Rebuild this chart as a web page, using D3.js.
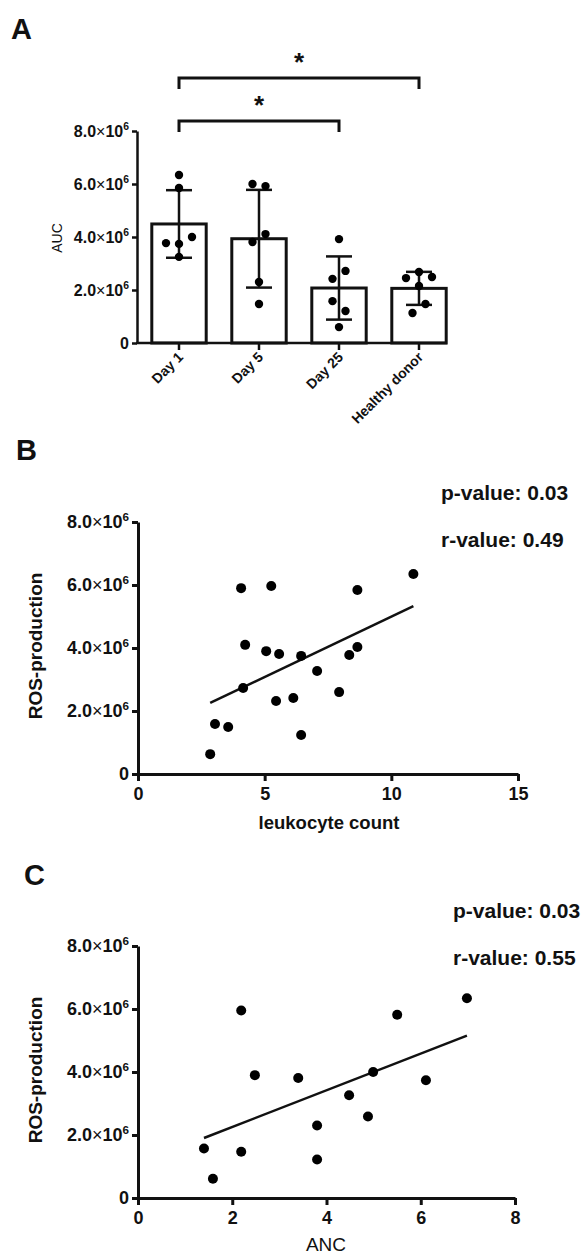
<!DOCTYPE html>
<html>
<head>
<meta charset="utf-8">
<script src="https://cdn.jsdelivr.net/npm/d3@7"></script>
<style>
  body { margin: 0; background: #fff; }
  svg { display: block; }
  text { font-family: "Liberation Sans", Arial, sans-serif; fill: #111; }
</style>
</head>
<body>
<svg id="chart" width="585" height="1255"></svg>
<script>
// ---- panel A: AUC per group (individual values) ----
const groups = ["Day 1", "Day 5", "Day 25", "Healthy donor"];
const day1 = [6.34e6, 5.85e6, 3.77e6, 4.00e6, 3.74e6, 3.25e6];
const day5 = [6.00e6, 5.92e6, 3.81e6, 4.11e6, 2.30e6, 1.47e6];
const day25 = [3.92e6, 2.72e6, 2.42e6, 1.58e6, 1.21e6, 0.60e6];
const healthy = [2.68e6, 2.45e6, 2.49e6, 2.15e6, 1.47e6, 1.13e6];
// side-by-side dot placement, in dot steps
const jitter = [[0, 0, -2, 2, 0, 0], [-1, 1, -1, 1, 0, 0], [0, 1, -1, -1, 1, 0], [0, -2, 2, 0, 1, -1]];
const comparisons = [["Day 1", "Day 25", "*"], ["Day 1", "Healthy donor", "*"]];
const yTicks = [0, 2e6, 4e6, 6e6, 8e6];

// ---- panel B: ROS vs leukocyte count ----
const leukocyteCount = [4.23, 5.06, 5.57, 6.44, 8.66, 8.34, 7.07, 4.15, 7.94, 5.45, 6.13, 3.04, 3.56, 6.44, 2.85, 4.07, 5.26, 8.66, 10.87];
const rosB = [4.10e6, 3.90e6, 3.81e6, 3.75e6, 4.03e6, 3.78e6, 3.27e6, 2.73e6, 2.60e6, 2.32e6, 2.41e6, 1.59e6, 1.49e6, 1.24e6, 0.63e6, 5.90e6, 5.97e6, 5.84e6, 6.35e6];
const statsB = ["p-value: 0.03", "r-value: 0.49"];

// ---- panel C: ROS vs ANC ----
const anc = [2.48, 3.40, 4.99, 6.11, 4.48, 4.88, 3.80, 1.40, 2.19, 3.80, 1.59, 2.19, 5.50, 6.98];
const rosC = [3.90e6, 3.81e6, 4.00e6, 3.74e6, 3.26e6, 2.59e6, 2.30e6, 1.57e6, 1.47e6, 1.22e6, 0.61e6, 5.95e6, 5.82e6, 6.34e6];
const statsC = ["p-value: 0.03", "r-value: 0.55"];

const svg = d3.select("#chart");
svg.append("rect").attr("width", 585).attr("height", 1255).attr("fill", "#fff");

// 8.0x10^6 style labels
function sciLabels(sel, fs) {
  sel.each(function (d) {
    const t = d3.select(this).text(null).attr("font-size", fs).attr("font-weight", "bold");
    if (d === 0) { t.text("0"); return; }
    t.append("tspan").text((d / 1e6).toFixed(1));
    t.append("tspan").attr("font-weight", "normal").text("\u00d7");
    t.append("tspan").text("10");
    t.append("tspan").attr("font-size", fs * 0.65).attr("dy", -fs * 0.42).text("6");
  });
}

function styleAxis(g, w) {
  g.select(".domain").attr("stroke", "#111").attr("stroke-width", w);
  g.selectAll(".tick line").attr("stroke", "#111").attr("stroke-width", w);
}

function panelLetter(txt, x, y) {
  svg.append("text").attr("x", x).attr("y", y)
    .attr("font-family", "Lato, 'Open Sans', sans-serif")
    .attr("font-weight", "bold").attr("font-size", 29).text(txt);
}

// ================= A =================
function drawA() {
  const values = [day1, day5, day25, healthy];
  const y = d3.scaleLinear().domain([0, 8e6]).range([343, 131]);
  const x = d3.scaleBand().domain(groups).range([139, 459]).paddingInner(0.32).paddingOuter(0.16);
  const bw = x.bandwidth();
  const g = svg.append("g");

  const stats = groups.map((k, i) => ({
    key: k,
    mean: d3.mean(values[i]),
    sd: d3.deviation(values[i])
  }));

  g.selectAll(".bar").data(stats).join("rect")
    .attr("x", d => x(d.key)).attr("width", bw)
    .attr("y", d => y(d.mean)).attr("height", d => y(0) - y(d.mean))
    .attr("fill", "#fff").attr("stroke", "#111").attr("stroke-width", 3);

  // error bars (mean +/- SD)
  stats.forEach(d => {
    const cx = x(d.key) + bw / 2;
    g.append("line").attr("x1", cx).attr("x2", cx)
      .attr("y1", y(d.mean + d.sd)).attr("y2", y(d.mean - d.sd))
      .attr("stroke", "#111").attr("stroke-width", 2.5);
    [d.mean + d.sd, d.mean - d.sd].forEach(v => {
      g.append("line").attr("x1", cx - 13).attr("x2", cx + 13)
        .attr("y1", y(v)).attr("y2", y(v))
        .attr("stroke", "#111").attr("stroke-width", 2.5);
    });
  });

  values.forEach((arr, i) => {
    const cx = x(groups[i]) + bw / 2;
    g.selectAll(null).data(arr).join("circle")
      .attr("cx", (d, j) => cx + jitter[i][j] * 6.5)
      .attr("cy", d => y(d)).attr("r", 4.2).attr("fill", "#000");
  });

  const ya = svg.append("g").attr("transform", "translate(137,0)")
    .call(d3.axisLeft(y).tickValues(yTicks).tickSize(5).tickSizeOuter(0).tickPadding(3));
  styleAxis(ya, 2.5);
  ya.selectAll(".tick text").call(sciLabels, 16);

  const xa = svg.append("g").attr("transform", "translate(0,343)")
    .call(d3.axisBottom(x).tickSize(7).tickSizeOuter(0));
  xa.select(".domain").attr("d", "M136,0H447");
  styleAxis(xa, 2.5);
  xa.selectAll(".tick text")
    .attr("font-size", 14).attr("font-weight", "bold")
    .attr("text-anchor", "end").attr("dy", null).attr("y", 0)
    .attr("transform", "translate(5,15) rotate(-45)");

  svg.append("text").attr("transform", "translate(62,238) rotate(-90)")
    .attr("text-anchor", "middle").attr("font-size", 14).text("AUC");

  // significance brackets
  const levels = [121, 78];
  comparisons.forEach((c, i) => {
    const x1 = x(c[0]) + bw / 2, x2 = x(c[1]) + bw / 2, yy = levels[i];
    g.append("path").attr("d", `M${x1},${yy + 11}V${yy}H${x2}V${yy + 11}`)
      .attr("fill", "none").attr("stroke", "#111").attr("stroke-width", 3);
    g.append("text").attr("x", (x1 + x2) / 2).attr("y", yy - 7)
      .attr("text-anchor", "middle").attr("font-size", 26).attr("font-weight", "bold").text(c[2]);
  });
}

// ============== scatter panels ==============
function drawScatter(cfg) {
  const x = d3.scaleLinear().domain(cfg.xDomain).range([138, cfg.xEnd]);
  const y = d3.scaleLinear().domain([0, 8e6]).range([cfg.y0, cfg.y0 - 252]);
  const g = svg.append("g");
  const pts = cfg.xs.map((v, i) => [v, cfg.ys[i]]);

  // least squares fit
  const mx = d3.mean(cfg.xs), my = d3.mean(cfg.ys);
  const sxy = d3.sum(pts, p => (p[0] - mx) * (p[1] - my));
  const sxx = d3.sum(pts, p => (p[0] - mx) ** 2);
  const slope = sxy / sxx, icpt = my - slope * mx;
  const ext = d3.extent(cfg.xs);
  g.append("line")
    .attr("x1", x(ext[0])).attr("y1", y(icpt + slope * ext[0]))
    .attr("x2", x(ext[1])).attr("y2", y(icpt + slope * ext[1]))
    .attr("stroke", "#111").attr("stroke-width", 2.5);

  g.selectAll(null).data(pts).join("circle")
    .attr("cx", d => x(d[0])).attr("cy", d => y(d[1])).attr("r", 5).attr("fill", "#000");

  const ya = svg.append("g").attr("transform", "translate(138,0)")
    .call(d3.axisLeft(y).tickValues(yTicks).tickSize(6).tickSizeOuter(0).tickPadding(3));
  styleAxis(ya, 3);
  ya.selectAll(".tick text").call(sciLabels, 18);

  const xa = svg.append("g").attr("transform", `translate(0,${cfg.y0})`)
    .call(d3.axisBottom(x).tickValues(cfg.xTicks).tickSize(7).tickSizeOuter(0).tickPadding(6));
  styleAxis(xa, 3);
  xa.selectAll(".tick text").attr("font-size", 18).attr("font-weight", "bold");

  svg.append("text").attr("transform", `translate(42,${cfg.y0 - 128}) rotate(-90)`)
    .attr("text-anchor", "middle").attr("font-size", 19).attr("font-weight", "bold").text("ROS-production");

  svg.append("text").attr("x", cfg.titleX).attr("y", cfg.titleY)
    .attr("text-anchor", "middle").attr("font-size", cfg.titleSize)
    .attr("font-weight", cfg.titleWeight).text(cfg.title);

  cfg.stats.forEach((s, i) => {
    svg.append("text").attr("x", cfg.statX).attr("y", cfg.statY + i * 47)
      .attr("font-family", "Lato, 'Open Sans', sans-serif").attr("font-weight", "bold")
      .attr("font-size", 21).text(s);
  });
}

panelLetter("A", 11, 39);
drawA();

panelLetter("B", 16, 460);
drawScatter({
  xs: leukocyteCount, ys: rosB, xDomain: [0, 15], xEnd: 518, xTicks: [0, 5, 10, 15],
  y0: 774, title: "leukocyte count", titleX: 329, titleY: 829, titleSize: 18.5, titleWeight: "bold",
  stats: statsB, statX: 441, statY: 500
});

panelLetter("C", 24, 885);
drawScatter({
  xs: anc, ys: rosC, xDomain: [0, 8], xEnd: 515, xTicks: [0, 2, 4, 6, 8],
  y0: 1198, title: "ANC", titleX: 326, titleY: 1251, titleSize: 19, titleWeight: "normal",
  stats: statsC, statX: 453, statY: 918
});
</script>
</body>
</html>
